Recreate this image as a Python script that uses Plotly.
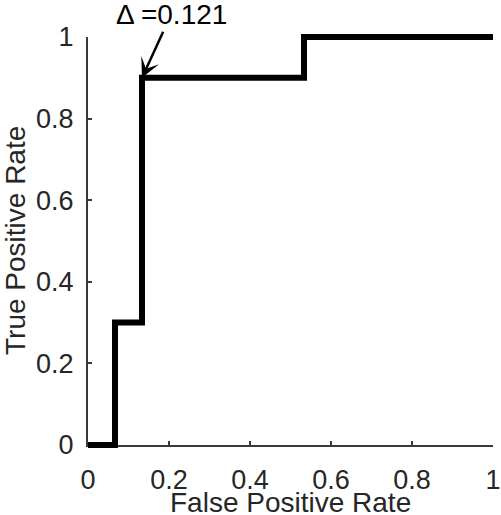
import plotly.graph_objects as go

# ROC curve points (step shape, FPR in 1/15 steps)
fpr = [0, 1 / 15, 1 / 15, 2 / 15, 2 / 15, 8 / 15, 8 / 15, 1]
tpr = [0, 0, 0.3, 0.3, 0.9, 0.9, 1.0, 1.0]

tick_vals = [0, 0.2, 0.4, 0.6, 0.8, 1]
tick_text = ["0", "0.2", "0.4", "0.6", "0.8", "1"]

x_title = "False Positive Rate"
y_title = "True Positive Rate"

delta_label = "Δ =0.121"
delta_x = 2 / 15
delta_y = 0.9

FONT = "Liberation Sans, Arial, Helvetica, sans-serif"
TXT = "#262626"
AX = "#3a3a3a"

W, H = 501, 515
ML, MR, MT, MB = 84, 4, 33, 66
PW = W - ML - MR
PH = H - MT - MB
PAD = 4

fig = go.Figure()

# empty trace so the visible (tick) axes get drawn
fig.add_trace(go.Scatter(x=[None], y=[None], mode="lines", showlegend=False, hoverinfo="skip"))

# curve lives on a slightly larger hidden subplot so the thick line is not clipped
fig.add_trace(go.Scatter(
    x=fpr,
    y=tpr,
    mode="lines",
    line=dict(color="black", width=6),
    xaxis="x2",
    yaxis="y2",
    showlegend=False,
    hoverinfo="skip",
))

padx = PAD / (PW - 2 * PAD)
pady = PAD / (PH - 2 * PAD)

fig.add_annotation(
    x=delta_x,
    y=delta_y,
    xref="x2",
    yref="y2",
    text=delta_label,
    showarrow=True,
    arrowhead=3,
    arrowsize=1.3,
    arrowwidth=2.5,
    arrowcolor="black",
    ax=29,
    ay=-63,
    standoff=0,
    font=dict(family=FONT, size=28, color="black"),
)

# axis titles as annotations so they are not squeezed by the margins
fig.add_annotation(
    x=0.5, y=(449 - 502) / PH, xref="paper", yref="paper",
    text=x_title, showarrow=False, xanchor="center", yanchor="middle",
    font=dict(family=FONT, size=28, color=TXT),
)
fig.add_annotation(
    x=(15 - ML) / PW, y=0.5, xref="paper", yref="paper",
    text=y_title, showarrow=False, textangle=-90, xanchor="center", yanchor="middle",
    font=dict(family=FONT, size=28, color=TXT),
)

axis_common = dict(
    showgrid=False,
    zeroline=False,
    showline=True,
    linecolor=AX,
    linewidth=2,
    ticks="inside",
    ticklen=4,
    tickwidth=2,
    tickcolor=AX,
    tickvals=tick_vals,
    ticktext=tick_text,
    tickfont=dict(family=FONT, size=27, color=TXT),
    automargin=False,
    fixedrange=True,
)

fig.update_layout(
    width=W,
    height=H,
    margin=dict(l=ML, r=MR, t=MT, b=MB),
    paper_bgcolor="white",
    plot_bgcolor="rgba(0,0,0,0)",
    showlegend=False,
    xaxis=dict(
        **axis_common,
        range=[0, 1],
        domain=[PAD / PW, 1 - PAD / PW],
        anchor="y",
        ticklabelstandoff=10,
    ),
    yaxis=dict(
        **axis_common,
        range=[0, 1],
        domain=[PAD / PH, 1 - PAD / PH],
        anchor="x",
        ticklabelstandoff=7,
    ),
    xaxis2=dict(range=[-padx, 1 + padx], domain=[0, 1], anchor="y2", visible=False, fixedrange=True),
    yaxis2=dict(range=[-pady, 1 + pady], domain=[0, 1], anchor="x2", visible=False, fixedrange=True),
)

fig.write_html(
    "out.html",
    config={"displayModeBar": False},
    post_script="document.body.style.margin='0';",
)
